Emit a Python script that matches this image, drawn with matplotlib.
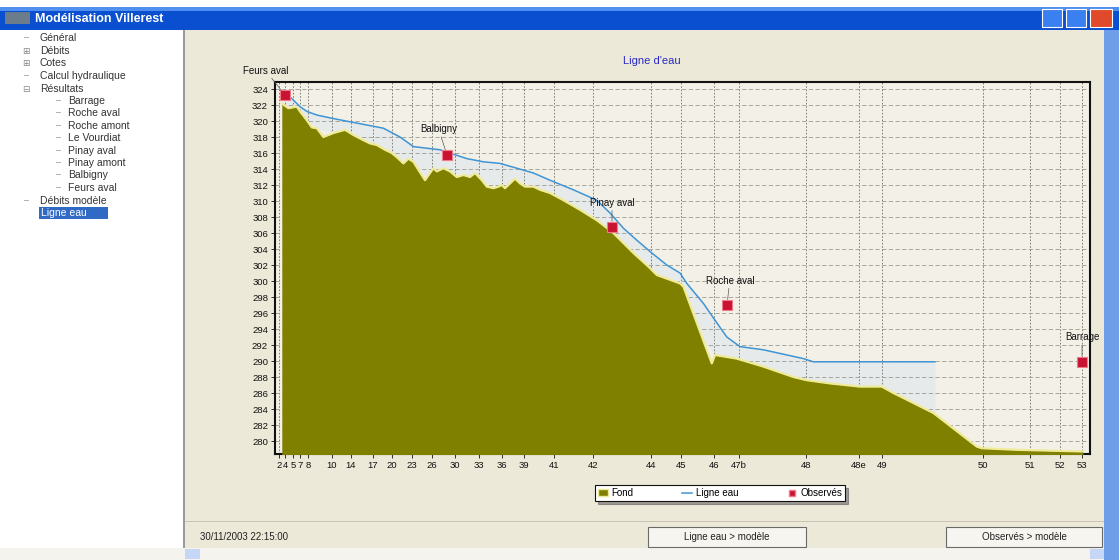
import numpy as np
import matplotlib
matplotlib.use('Agg')
import matplotlib.pyplot as plt
from matplotlib.patches import Rectangle
from matplotlib.lines import Line2D

plt.rcParams['font.family'] = ['Liberation Sans', 'DejaVu Sans']

# ---------------- data ----------------
profile_labels = ['2', '4', '5', '7', '8', '10', '14', '17', '20', '23', '26', '30', '33',
                  '36', '39', '41', '42', '44', '45', '46', '47b', '48', '48e', '49',
                  '50', '51', '52', '53']
profile_km = [0.2, 0.5, 0.9, 1.25, 1.65, 2.85, 3.8, 4.9, 5.85, 6.85, 7.85, 9.0, 10.2,
              11.35, 12.45, 13.95, 15.9, 18.8, 20.3, 21.95, 23.2, 26.55, 29.2, 30.35,
              35.4, 37.75, 39.25, 40.35]

fond_km = [0.34, 0.67, 1.09, 1.25, 1.59, 1.84, 2.09, 2.42, 2.67, 2.92, 3.5, 3.92, 4.42,
           4.75, 5.09, 5.5, 5.84, 6.17, 6.42, 6.67, 6.92, 7.17, 7.5, 7.75, 7.92, 8.09,
           8.42, 8.75, 9.09, 9.42, 9.75, 10.0, 10.34, 10.59, 10.92, 11.17, 11.34, 11.5,
           11.75, 12.0, 12.25, 12.5, 12.92, 13.25, 13.75, 14.42, 15.25, 16.09, 16.92,
           17.92, 18.67, 19.09, 20.25, 20.42, 21.84, 22.0, 23.09, 24.42, 25.92, 26.59,
           27.75, 29.25, 30.34, 30.92, 32.92, 35.09, 35.34, 37.09, 40.25, 40.4]
fond_z = [322.2, 321.6, 321.8, 321.2, 320.1, 319.2, 319.1, 318.0, 318.25, 318.5, 318.9,
          318.25, 317.6, 317.2, 317.0, 316.4, 316.0, 315.3, 314.7, 315.3, 314.9, 313.9,
          312.6, 313.5, 314.1, 313.7, 314.1, 313.7, 313.0, 313.25, 313.0, 313.5, 312.6,
          311.8, 311.6, 311.8, 312.0, 311.6, 312.2, 312.8, 312.2, 311.8, 311.8, 311.4,
          311.0, 310.1, 308.9, 307.6, 306.0, 303.5, 301.8, 300.75, 299.7, 299.3, 289.7,
          290.75, 290.3, 289.3, 288.0, 287.6, 287.2, 286.8, 286.8, 286.0, 283.5, 279.3,
          279.1, 278.9, 278.7, 278.7]

eau_km = [0.45, 0.84, 1.25, 1.59, 2.09, 2.92, 3.75, 4.59, 5.42, 6.25, 6.92, 7.59, 8.25,
          9.59, 10.42, 11.25, 12.09, 12.92, 13.75, 14.92, 16.09, 16.75, 17.42, 18.09,
          18.84, 19.59, 20.25, 20.59, 21.42, 22.0, 22.59, 23.25, 24.42, 26.42, 26.92,
          30.25, 33.0]
eau_z = [323.5, 322.8, 321.8, 321.2, 320.75, 320.3, 319.9, 319.5, 319.1, 318.0, 316.8,
         316.6, 316.4, 315.3, 314.9, 314.7, 314.1, 313.5, 312.6, 311.4, 310.1, 308.5,
         306.6, 305.1, 303.5, 302.0, 301.0, 299.7, 297.2, 295.1, 293.0, 291.8, 291.4,
         290.3, 289.9, 289.9, 289.9]

obs_names = ['Feurs aval', 'Balbigny', 'Pinay aval', 'Roche aval', 'Barrage']
obs_km = [0.5, 8.6, 16.85, 22.6, 40.35]
obs_z = [323.25, 315.75, 306.75, 297.0, 289.9]

y_ticks = list(range(280, 326, 2))

# ---------------- figure ----------------
W, H = 1119, 560
fig = plt.figure(figsize=(W / 100, H / 100), dpi=100, facecolor='#ece9d8')


def rect(x0, y0, x1, y1, fc, ec='none', lw=0, z=-5):
    r = Rectangle((x0 / W, 1 - y1 / H), (x1 - x0) / W, (y1 - y0) / H,
                  transform=fig.transFigure, facecolor=fc, edgecolor=ec,
                  linewidth=lw, zorder=z)
    fig.add_artist(r)


def ftext(x, y, s, **kw):
    fig.text(x / W, 1 - y / H, s, **kw)


# window chrome
rect(0, 0, W, 7, '#ffffff', z=-6)
rect(0, 7, W, 30, '#0a4fd0', z=-5)
rect(0, 7, W, 11, '#4f8ff0', z=-4)
rect(5, 12, 30, 24, '#6b7d8c', z=-4)
ftext(35, 18.5, 'Modélisation Villerest', color='white', fontsize=9,
      fontweight='bold', va='center', ha='left')
for bx0, bx1, col in [(1042, 1062, '#3a80f0'), (1066, 1086, '#3a80f0'), (1090, 1112, '#e04a2a')]:
    rect(bx0, 9, bx1, 27, col, ec='white', lw=0.8, z=-3)
rect(1104, 30, W, H, '#6f9ee8', z=-5)
rect(0, 30, 183, 548, '#ffffff', z=-5)
rect(183, 30, 185, 548, '#9a9a9a', z=-4)
rect(0, 548, 1104, H, '#f4f3ee', z=-5)
rect(185, 521, 1104, 522, '#c8c5b5', z=-4)

tree = [('Général', 40, 38, '–'), ('Débits', 40, 51, '⊞'), ('Cotes', 40, 63, '⊞'),
        ('Calcul hydraulique', 40, 76, '–'), ('Résultats', 40, 89, '⊟'),
        ('Barrage', 68, 101, '–'), ('Roche aval', 68, 113, '–'),
        ('Roche amont', 68, 126, '–'), ('Le Vourdiat', 68, 138, '–'),
        ('Pinay aval', 68, 151, '–'), ('Pinay amont', 68, 163, '–'),
        ('Balbigny', 68, 175, '–'), ('Feurs aval', 68, 188, '–'),
        ('Débits modèle', 40, 201, '–')]
for name, x, y, sym in tree:
    ftext(x, y, name, fontsize=7.5, color='#333333', va='center', ha='left')
    ftext(x - 14 if x < 60 else x - 10, y, sym, fontsize=6.5, color='#888888',
          va='center', ha='center')
rect(39, 207, 108, 219, '#316ac5', z=-3)
ftext(41, 213, 'Ligne eau', fontsize=7.5, color='white', va='center', ha='left')

# bottom bar
ftext(200, 537, '30/11/2003 22:15:00', fontsize=7, color='#222222', va='center')
for bx0, bx1, lab in [(648, 806, 'Ligne eau > modèle'), (946, 1102, 'Observés > modèle')]:
    rect(bx0, 527, bx1, 547, '#f6f5f0', ec='#6a6a6a', lw=0.8, z=-3)
    ftext((bx0 + bx1) / 2, 537, lab, fontsize=7, color='#222222', va='center', ha='center')
rect(185, 549, 200, 559, '#c6d6f6', z=-3)
rect(1090, 549, 1104, 559, '#c6d6f6', z=-3)

# ---------------- chart ----------------
x_left, x_right = 275, 1090
y_top, y_bot = 82, 454
ax = fig.add_axes([x_left / W, 1 - y_bot / H, (x_right - x_left) / W, (y_bot - y_top) / H])
ax.set_facecolor('#f3f1e7')
ax.set_xlim(0, 40.75)
ax.set_ylim(278.375, 324.875)

ax.set_yticks(y_ticks)
ax.set_yticklabels([str(v) for v in y_ticks])
ax.set_xticks(profile_km)
ax.set_xticklabels(profile_labels)
ax.tick_params(axis='both', labelsize=6.8, length=3, width=0.6, colors='#111111',
               direction='out', pad=2)
ax.xaxis.grid(True, color='#6e6e66', linestyle=(0, (2, 2)), linewidth=0.6)
ax.yaxis.grid(True, color='#9a9a90', linestyle=(0, (5, 3)), linewidth=0.6)
ax.set_axisbelow(True)
for s in ax.spines.values():
    s.set_color('#111111')
    s.set_linewidth(1.5)

fk = np.array(fond_km)
fz = np.array(fond_z)
ek = np.array(eau_km)
ez = np.array(eau_z)

# light water region between water line and bed (under the grid)
bed_at_eau = np.interp(ek, fk, fz)
ax.fill_between(ek, bed_at_eau, ez, where=ez >= bed_at_eau, color='#e6eaea',
                zorder=0.3, linewidth=0)

ax.fill_between(fk, fz, 270, color='#808000', zorder=3, linewidth=0, label='Fond')
ax.plot(fk, fz, color='#efeb98', lw=1.6, zorder=3.5)
ax.plot(ek, ez, color='#3f94d4', lw=1.1, zorder=4, label='Ligne eau')
ax.plot(obs_km, obs_z, linestyle='none', marker='s', markersize=7,
        markerfacecolor='#c81432', markeredgecolor='#f07a8a', markeredgewidth=0.8,
        zorder=6, label='Observés', clip_on=False)

offsets = {'Feurs aval': (-14, 14), 'Balbigny': (-6, 15), 'Pinay aval': (0, 14),
           'Roche aval': (2, 14), 'Barrage': (0, 14)}
for n, xk, zk in zip(obs_names, obs_km, obs_z):
    dx, dy = offsets[n]
    ax.annotate(n, (xk, zk), xytext=(dx, dy), textcoords='offset points',
                fontsize=7, ha='center', va='bottom', color='#111111',
                annotation_clip=False, zorder=7,
                arrowprops=dict(arrowstyle='-', color='#555555', lw=0.5,
                                shrinkA=0, shrinkB=4))

ftext(652, 61, "Ligne d'eau", fontsize=8, color='#2a2ac0', ha='center', va='center')

# legend
handles = [Rectangle((0, 0), 1, 1, facecolor='#808000', edgecolor='#eeea9c'),
           Line2D([0], [0], color='#3f94d4', lw=1.1),
           Line2D([0], [0], linestyle='none', marker='s', markersize=5,
                  markerfacecolor='#c81432', markeredgecolor='#f07a8a')]
leg = fig.legend(handles, ['Fond', 'Ligne eau', 'Observés'], ncol=3,
                 loc='center', bbox_to_anchor=(720 / W, 1 - 493 / H),
                 fontsize=7, frameon=True, fancybox=False, shadow=True,
                 edgecolor='#111111', facecolor='white', framealpha=1,
                 handlelength=1.0, handleheight=0.6, handletextpad=0.4,
                 columnspacing=5.0, borderpad=0.3, borderaxespad=0)
leg.get_frame().set_linewidth(0.8)

fig.savefig('out.png', dpi=100, facecolor=fig.get_facecolor())
